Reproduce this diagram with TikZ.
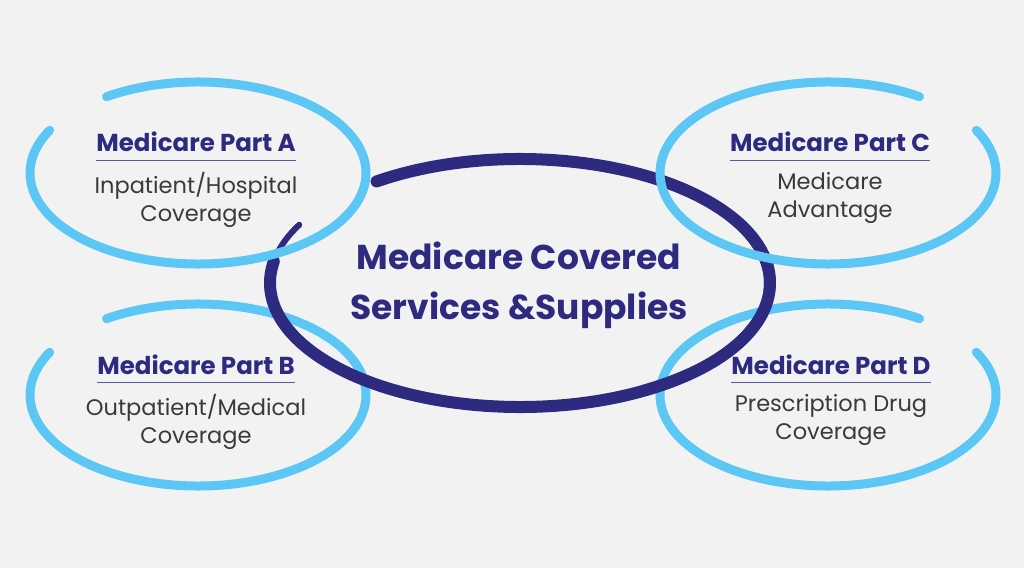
\documentclass[tikz,border=0pt]{standalone}
\usepackage{fontspec}
\setmainfont{Poppins}
\usetikzlibrary{positioning}
\definecolor{PaperGray}{HTML}{F2F2F2}
\definecolor{BrushNavy}{HTML}{2D2A80}
\definecolor{BrushSky}{HTML}{5CC6F4}
\definecolor{RuleLilac}{HTML}{5A54A6}
\definecolor{TextGray}{HTML}{3A3A3A}

\begin{document}
\begin{tikzpicture}[x=1pt, y=1pt,
      sky/.style={draw=BrushSky, line width=9pt, line cap=round},
      navy/.style={draw=BrushNavy, line width=12pt, line cap=round},
      part/.style={font=\bfseries\fontsize{24.5}{28}\selectfont, text=BrushNavy, inner sep=0pt},
      desc/.style={font=\fontsize{22.5}{28}\selectfont, text=TextGray, align=center, inner sep=0pt},
      hub/.style={font=\bfseries\fontsize{34.5}{50}\selectfont, text=BrushNavy, align=center, inner sep=0pt},
      rule/.style={draw=RuleLilac, line width=1.2pt}]
    \fill[PaperGray] (0,0) rectangle (1024,568);
    \useasboundingbox (0,0) rectangle (1024,568);
    % centres of the brush loops
    \coordinate (cA) at (198,395);
    \coordinate (cB) at (198,173);
    \coordinate (cC) at (828,395);
    \coordinate (cD) at (828,173);
    \coordinate (cM) at (520,285);
    % lower loops sit under the navy ring
    \draw[sky] ([shift={(123:168pt and 91pt)}]cB) arc[start angle=123, end angle=-208, x radius=168pt, y radius=91pt];
    \draw[sky] ([shift={(57:168pt and 91pt)}]cD) arc[start angle=57, end angle=388, x radius=168pt, y radius=91pt];
    % navy ring
    \draw[navy] ([shift={(125:250pt and 124pt)}]cM) arc[start angle=125, end angle=-190, x radius=250pt, y radius=124pt];
    \draw[navy, line width=6pt] ([shift={(-188:250pt and 124pt)}]cM) arc[start angle=-188, end angle=-208, x radius=250pt, y radius=124pt];
    \draw[navy, line width=6pt] ([shift={(30:247pt and 121pt)}]cM) arc[start angle=30, end angle=-60, x radius=247pt, y radius=121pt];
    % upper loops sit over it
    \draw[sky] ([shift={(123:168pt and 91pt)}]cA) arc[start angle=123, end angle=-208, x radius=168pt, y radius=91pt];
    \draw[sky] ([shift={(57:168pt and 91pt)}]cC) arc[start angle=57, end angle=388, x radius=168pt, y radius=91pt];
    % texts
    \node[hub] (hub) at (519,283) {Medicare Covered\\Services \&Supplies};
    \node[part, anchor=base] (partA) at (196,416) {Medicare Part A};
    \node[part, anchor=base] (partB) at (196,194) {Medicare Part B};
    \node[part, anchor=base] (partC) at (830,416) {Medicare Part C};
    \node[part, anchor=base] (partD) at (831,194) {Medicare Part D};
    \draw[rule] ([yshift=-8pt]partA.south west) -- ([yshift=-8pt]partA.south east);
    \draw[rule] ([yshift=-8pt]partB.south west) -- ([yshift=-8pt]partB.south east);
    \draw[rule] ([yshift=-8pt]partC.south west) -- ([yshift=-8pt]partC.south east);
    \draw[rule] ([yshift=-8pt]partD.south west) -- ([yshift=-8pt]partD.south east);
    \node[desc, below=20pt of partA] (descA) {Inpatient/Hospital\\Coverage};
    \node[desc, below=20pt of partB] (descB) {Outpatient/Medical\\Coverage};
    \node[desc, below=20pt of partC] (descC) {Medicare\\Advantage};
    \node[desc, below=20pt of partD] (descD) {Prescription Drug\\Coverage};
  \end{tikzpicture}
\end{document}
